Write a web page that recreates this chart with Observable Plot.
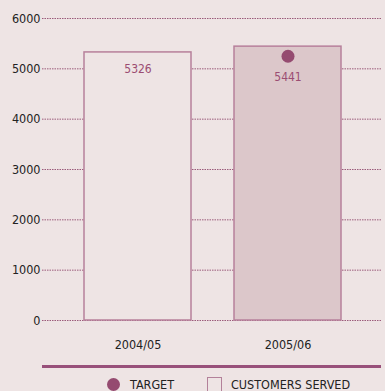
<!DOCTYPE html>
<html>
<head>
<meta charset="utf-8">
<script src="https://cdn.jsdelivr.net/npm/d3@7"></script>
<script src="https://cdn.jsdelivr.net/npm/@observablehq/plot@0.6"></script>
<style>
  html, body { margin: 0; padding: 0; background: #eee4e4; }
  body { width: 385px; height: 391px; overflow: hidden; position: relative;
         font-family: "Liberation Sans Narrow", "DejaVu Sans Condensed", "Roboto", sans-serif; }
  #chart svg { display: block; }
  .rule { position: absolute; left: 42px; width: 339px; top: 365px; height: 3px; background: #98507a; }
  .leg { position: absolute; top: 377px; font-size: 12.5px; color: #222; line-height: 16px; }
  .dot { position: absolute; width: 13px; height: 13px; border-radius: 50%; background: #954b70; }
  .sq { position: absolute; width: 15px; height: 15px; border: 1px solid #b3819a; box-sizing: border-box; background: #eee4e4; }
</style>
</head>
<body>
<div id="chart"></div>
<div class="rule"></div>
<div class="dot" style="left:107px; top:378px;"></div>
<div class="leg" style="left:130px;">TARGET</div>
<div class="sq" style="left:207px; top:377px;"></div>
<div class="leg" style="left:231px;">CUSTOMERS SERVED</div>
<script>
const years = ["2004/05", "2005/06"];
const served = [5326, 5441];
const targets = [null, 5250];
const yTicks = [0, 1000, 2000, 3000, 4000, 5000, 6000];

const data = years.map((y, i) => ({ year: y, served: served[i], target: targets[i], idx: i }));
const withTarget = data.filter(d => d.target != null);
const noTarget = data.filter(d => d.target == null);

const chart = Plot.plot({
  width: 385,
  height: 358,
  marginLeft: 42,
  marginRight: 3,
  marginTop: 18,
  marginBottom: 38,
  style: { background: "transparent", fontFamily: "'Liberation Sans Narrow', 'DejaVu Sans Condensed', sans-serif", fontSize: "12.5px", color: "#222" },
  x: { domain: years, paddingInner: 0.288, paddingOuter: 0.27, label: null },
  y: { domain: [0, 6000], ticks: yTicks, label: null },
  marks: [
    Plot.ruleY(yTicks, { stroke: "#9b5a7a", strokeDasharray: "1.5,1", strokeWidth: 1 }),
    Plot.barY(data, { x: "year", y: "served", fill: d => d.idx === 1 ? "#dcc7ca" : "#eee4e4", stroke: "#b7809b", strokeWidth: 1.5 }),
    Plot.dot(withTarget, { x: "year", y: "target", r: 6.5, fill: "#954b70" }),
    Plot.text(noTarget, { x: "year", y: "served", text: d => String(d.served), dy: 17, fill: "#9b4d72", fontSize: 12 }),
    Plot.text(withTarget, { x: "year", y: "served", text: d => String(d.served), dy: 31, fill: "#9b4d72", fontSize: 12 }),
    Plot.axisY({ ticks: yTicks, tickSize: 0, tickPadding: 2, tickFormat: d => String(d), fill: "#222", fontSize: 12.5 }),
    Plot.axisX({ tickSize: 0, tickPadding: 20, fill: "#222", fontSize: 12.5 })
  ]
});
document.getElementById("chart").appendChild(chart);
</script>
</body>
</html>
